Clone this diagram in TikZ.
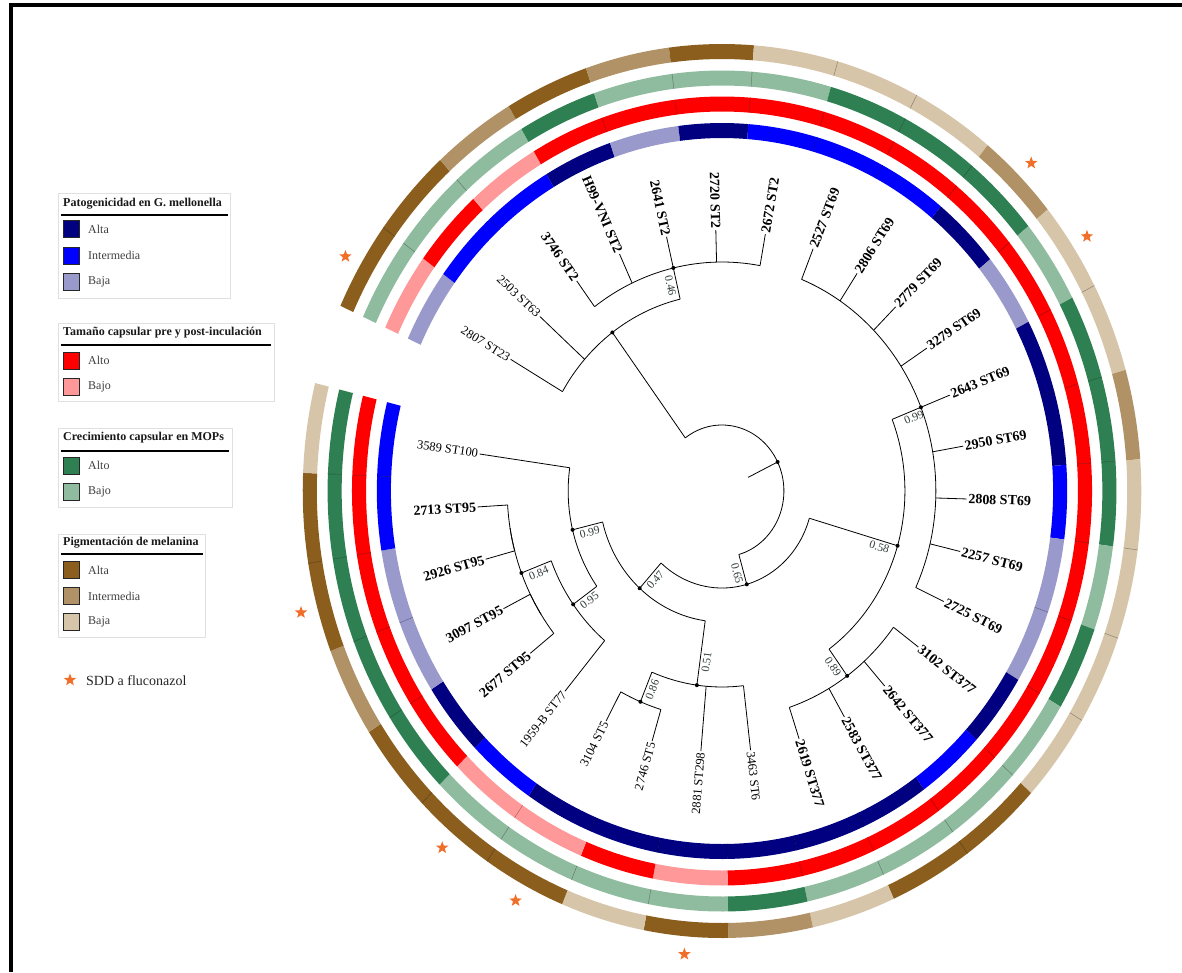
\documentclass[tikz,border=0pt]{standalone}
\usepackage{fontspec}
\setmainfont{Liberation Serif}
\usetikzlibrary{shapes.geometric}
\definecolor{pA}{RGB}{0,0,128}
\definecolor{pI}{RGB}{0,0,255}
\definecolor{pL}{RGB}{153,153,204}
\definecolor{cA}{RGB}{255,0,0}
\definecolor{cB}{RGB}{255,153,153}
\definecolor{gA}{RGB}{46,128,82}
\definecolor{gB}{RGB}{143,188,159}
\definecolor{mA}{RGB}{139,94,30}
\definecolor{mI}{RGB}{176,146,102}
\definecolor{mB}{RGB}{214,197,168}
\definecolor{starc}{RGB}{240,110,40}
\definecolor{supc}{RGB}{50,60,60}
\tikzset{
  tree/.style={draw=black, line width=0.8pt},
  leaf/.style={inner sep=1.5pt, text=black},
  supp/.style={font=\fontsize{11.5}{13}\selectfont, inner sep=2.5pt, text=supc},
  starsh/.style={star, star points=5, star point ratio=2.4, fill=starc, draw=none, minimum size=13pt, inner sep=0pt},
  legbox/.style={draw=black!12, line width=0.6pt},
  legline/.style={draw=black, line width=1.2pt},
  legtitle/.style={anchor=west, inner sep=0pt, font=\bfseries\fontsize{12}{14}\selectfont, text=black!90},
  legtxt/.style={anchor=west, inner sep=0pt, font=\fontsize{12}{14}\selectfont, text=black!75},
  legsq/.style={draw=black!85, line width=1pt, minimum width=16pt, minimum height=17pt, inner sep=0pt},
}
\newcommand\lnf{\fontsize{12.5}{14}\selectfont}
\newcommand\lbf{\bfseries\fontsize{14}{16}\selectfont}
% ring segment: centre angle, inner radius, colour
\newcommand\ringseg[3]{%
  \pgfmathsetmacro\rsA{#1+5.825}%
  \pgfmathsetmacro\rsB{#1-5.825}%
  \pgfmathsetmacro\rsR{#2+15}%
  \fill[#3] ({0.938*#2*cos(\rsA)},{#2*sin(\rsA)}) arc[start angle=\rsA, end angle=\rsB, x radius={0.938*#2}, y radius=#2] -- ({0.938*\rsR*cos(\rsB)},{\rsR*sin(\rsB)}) arc[start angle=\rsB, end angle=\rsA, x radius={0.938*\rsR}, y radius=\rsR] -- cycle;}
\newcommand\ringsep[3]{%
  \pgfmathsetmacro\rsA{#1+5.825}%
  \pgfmathsetmacro\rsR{#2+15}%
  \draw[#3!65!black, line width=0.5pt] ({0.938*#2*cos(\rsA)},{#2*sin(\rsA)}) -- ({0.938*\rsR*cos(\rsA)},{\rsR*sin(\rsA)});}
\newcommand\ringrow[2]{%
  \foreach \cl [count=\k, remember=\cl as \lcl (initially none)] in {#2}{%
    \pgfmathsetmacro\ang{149.7-(\k-1)*11.65}%
    \ringseg{\ang}{#1}{\cl}%
    \ifnum\strcmp{\cl}{\lcl}=0 \ringsep{\ang}{#1}{\cl}\fi}}
% branch: name, angle, radius, parent radius
\newcommand\br[4]{%
  \coordinate (#1) at ({0.938*(#3)*cos(#2)},{(#3)*sin(#2)});
  \coordinate (#1-f) at ({0.938*(#4)*cos(#2)},{(#4)*sin(#2)});
  \draw[tree] (#1-f) -- (#1);}
% arc: start coordinate, start angle, end angle, radius
\newcommand\tarc[4]{%
  \draw[tree] (#1) arc[start angle=#2, end angle=#3, x radius={0.938*(#4)}, y radius={#4}];}
% leaf label: coordinate, angle, text, font
\newcommand\leaflab[4]{%
  \pgfmathsetmacro\lrot{atan2(sin(#2),0.938*cos(#2))}%
  \pgfmathtruncatemacro\lside{cos(#2)>=0 ? 1 : 0}%
  \ifnum\lside=1
    \node[leaf, font=#4, anchor=west, rotate=\lrot] (#1-t) at (#1) {#3};%
  \else
    \pgfmathsetmacro\lrot{\lrot+180}%
    \node[leaf, font=#4, anchor=east, rotate=\lrot] (#1-t) at (#1) {#3};%
  \fi}
% support value: name, angle, radius, text
\newcommand\supval[4]{%
  \pgfmathsetmacro\lrot{atan2(sin(#2),0.938*cos(#2))}%
  \pgfmathtruncatemacro\lside{cos(#2)>=0 ? 1 : 0}%
  \ifnum\lside=0 \pgfmathsetmacro\lrot{\lrot+180}\fi
  \node[supp, anchor=north, rotate=\lrot] (#1) at ({0.938*(#3)*cos(#2)},{(#3)*sin(#2)}) {#4};}

\begin{document}
\begin{tikzpicture}[x=1pt, y=1pt]
\useasboundingbox (0,0) rectangle (1182,-972);
\fill[white] (0,0) rectangle (1182,-972);
\draw[line width=4pt] (11,-972) -- (11,-5) -- (1182,-5);

\begin{scope}[shift={(722,-491)}]
% ---------- rings ----------
\ringrow{353}{pL,pI,pI,pA,pL,pA,pI,pI,pI,pA,pL,pA,pA,pI,pL,pL,pA,pI,pA,pA,pA,pA,pA,pA,pI,pA,pL,pL,pI,pI}
\ringrow{379.5}{cB,cA,cB,cA,cA,cA,cA,cA,cA,cA,cA,cA,cA,cA,cA,cA,cA,cA,cA,cA,cA,cB,cA,cB,cB,cA,cA,cA,cA,cA}
\ringrow{405.5}{gB,gB,gB,gA,gB,gB,gB,gA,gA,gA,gB,gA,gA,gA,gB,gA,gB,gB,gB,gB,gA,gB,gB,gB,gB,gA,gA,gA,gA,gA}
\ringrow{432}{mA,mA,mI,mA,mI,mA,mB,mB,mB,mI,mB,mB,mI,mB,mB,mB,mB,mA,mA,mB,mI,mA,mB,mA,mA,mA,mI,mA,mA,mB}

% ---------- SDD stars ----------
\foreach \k in {1,10,11,22,24,25,28}{
  \pgfmathsetmacro\ang{149.7-(\k-1)*11.65}
  \node[starsh] (star\k) at ({0.938*465*cos(\ang)},{465*sin(\ang)}) {};
}

% ---------- internal branches ----------
\br{A}{26.1}{66}{31}
\br{B}{126.4}{197}{66}
\br{Q}{103.1}{229}{197}
\br{C}{-74.2}{97}{66}
\br{D}{-16.31}{195}{97}
\br{R}{21.55}{228}{195}
\br{S}{-54.175}{228}{195}
\br{E}{-132.08}{131}{97}
\br{G}{-97.86}{196}{131}
\br{T}{-112.425}{228}{196}
\br{F}{-166.31}{164}{131}
\br{H}{-144.46}{195}{164}
\br{I}{-159.025}{229}{195}
\br{X}{-170.675}{229}{229}
\br{K}{-147.375}{229}{229}

% ---------- leaves ----------
\foreach \k/\txt/\fnt/\pr in {
  1/2807 ST23/\lnf/197, 2/2503 ST63/\lnf/197,
  3/3746 ST2/\lbf/229, 4/H99-VNI ST2/\lbf/229, 5/2641 ST2/\lbf/229, 6/2720 ST2/\lbf/229, 7/2672 ST2/\lbf/229,
  8/2527 ST69/\lbf/228, 9/2806 ST69/\lbf/228, 10/2779 ST69/\lbf/228, 11/3279 ST69/\lbf/228, 12/2643 ST69/\lbf/228,
  13/2950 ST69/\lbf/228, 14/2808 ST69/\lbf/228, 15/2257 ST69/\lbf/228, 16/2725 ST69/\lbf/228,
  17/3102 ST377/\lbf/228, 18/2642 ST377/\lbf/228, 19/2583 ST377/\lbf/228, 20/2619 ST377/\lbf/228,
  21/3463 ST6/\lnf/196, 22/2881 ST298/\lnf/196, 23/2746 ST5/\lnf/228, 24/3104 ST5/\lnf/228,
  25/1959-B ST77/\lnf/195, 26/2677 ST95/\lbf/229, 27/3097 ST95/\lbf/229, 28/2926 ST95/\lbf/229,
  29/2713 ST95/\lbf/229, 30/3589 ST100/\lnf/164}{
  \pgfmathsetmacro\la{149.7-(\k-1)*11.65}
  \br{L\k}{\la}{261}{\pr}
  \leaflab{L\k}{\la}{\txt}{\fnt}
}

% ---------- arcs ----------
\tarc{B-f}{126.4}{-74.2}{66}
\tarc{L1-f}{149.7}{103.1}{197}
\tarc{L3-f}{126.4}{79.8}{229}
\tarc{D-f}{-16.31}{-132.08}{97}
\tarc{R-f}{21.55}{-54.175}{195}
\tarc{L8-f}{68.15}{-25.05}{228}
\tarc{L17-f}{-36.7}{-71.65}{228}
\tarc{G-f}{-97.86}{-166.31}{131}
\tarc{L21-f}{-83.3}{-112.425}{196}
\tarc{L23-f}{-106.6}{-118.25}{228}
\tarc{H-f}{-144.46}{-188.15}{164}
\tarc{L25-f}{-129.9}{-159.025}{195}
\tarc{K}{-147.375}{-170.675}{229}
\tarc{L28-f}{-164.85}{-176.5}{229}
\tarc{L26-f}{-141.55}{-153.2}{229}

% ---------- node dots ----------
\foreach \n in {A,B,Q,C,D,R,S,E,F,G,T,H,I}{\fill (\n) circle[radius=2];}

% ---------- support values ----------
\supval{sQ}{103.1}{212}{0.46}
\supval{sR}{21.55}{217}{0.99}
\supval{sD}{-16.31}{177}{0.58}
\supval{sS}{-54.175}{212}{0.89}
\supval{sC}{-74.2}{84}{0.65}
\supval{sE}{-132.08}{114}{0.47}
\supval{sF}{-166.31}{147}{0.99}
\supval{sH}{-144.46}{179}{0.95}
\supval{sI}{-159.025}{212}{0.84}
\supval{sG}{-97.86}{172}{0.51}
\supval{sT}{-112.425}{212}{0.86}
\end{scope}

% ---------- legend ----------
\draw[legbox] (58,-193) rectangle (230,-298);
\node[legtitle] (lt1) at (63,-204) {Patogenicidad en G. mellonella};
\draw[legline] (61,-215) -- (228,-215);
\node[legsq, fill=pA] (l1a) at (71,-229) {}; \node[legtxt] (l1at) at (88,-229) {Alta};
\node[legsq, fill=pI] (l1b) at (71,-255.5) {}; \node[legtxt] (l1bt) at (88,-255.5) {Intermedia};
\node[legsq, fill=pL] (l1c) at (71,-282) {}; \node[legtxt] (l1ct) at (88,-282) {Baja};

\draw[legbox] (58,-323) rectangle (274,-401);
\node[legtitle] (lt2) at (63,-333) {Tamaño capsular pre y post-inculación};
\draw[legline] (61,-345) -- (271,-345);
\node[legsq, fill=cA] (l2a) at (71,-360.5) {}; \node[legtxt] (l2at) at (88,-360.5) {Alto};
\node[legsq, fill=cB] (l2b) at (71,-386.5) {}; \node[legtxt] (l2bt) at (88,-386.5) {Bajo};

\draw[legbox] (58,-428) rectangle (232,-507);
\node[legtitle] (lt3) at (63,-438) {Crecimiento capsular en MOPs};
\draw[legline] (61,-451) -- (229,-451);
\node[legsq, fill=gA] (l3a) at (71,-465.5) {}; \node[legtxt] (l3at) at (88,-465.5) {Alto};
\node[legsq, fill=gB] (l3b) at (71,-491.5) {}; \node[legtxt] (l3bt) at (88,-491.5) {Bajo};

\draw[legbox] (58,-534) rectangle (205,-637);
\node[legtitle] (lt4) at (63,-543) {Pigmentación de melanina};
\draw[legline] (61,-554) -- (203,-554);
\node[legsq, fill=mA] (l4a) at (71,-570) {}; \node[legtxt] (l4at) at (88,-570) {Alta};
\node[legsq, fill=mI] (l4b) at (71,-596) {}; \node[legtxt] (l4bt) at (88,-596) {Intermedia};
\node[legsq, fill=mB] (l4c) at (71,-622) {}; \node[legtxt] (l4ct) at (88,-622) {Baja};

\node[starsh] (lstar) at (70,-680) {};
\node[legtxt, font=\fontsize{14}{16}\selectfont, text=black!85] (lstart) at (86,-681) {SDD a fluconazol};
\end{tikzpicture}
\end{document}
